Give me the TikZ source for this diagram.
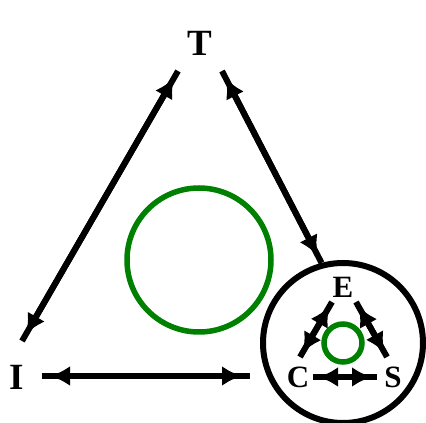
\documentclass[tikz,border=0pt]{standalone}
\usepackage{fontspec}
\setmainfont{Liberation Serif}
\usepackage{tikz}
\usetikzlibrary{arrows.meta, positioning}

\tikzset{
    lbl/.style={font=\fontsize{37}{37}\selectfont\bfseries, inner sep=0pt},
    sublbl/.style={font=\fontsize{31}{31}\selectfont\bfseries, inner sep=0pt},
    arr/.style={line width=6pt, {Latex[length=20pt,width=20pt]}-{Latex[length=20pt,width=20pt]},
        shorten <=#1, shorten >=#1,
        preaction={draw, line width=6pt, arrows=-, shorten <=0pt, shorten >=0pt}},
    arr/.default=8pt,
    ring/.style={line width=5.5pt, draw=green!50!black}
}

\begin{document}
\begin{tikzpicture}[x=1pt, y=1pt]
        \useasboundingbox (0,0) rectangle (426,423);
        % outer triangle
        \node[lbl] (T) at (200,380) {T};
        \node[lbl] (I) at (17,46) {I};
        \node[draw, circle, line width=6pt, minimum size=160pt] (sys) at (343,80) {};
        \draw[ring] (199,163) circle (72);
        % inner triangle
        \node[sublbl] (E) at (343,136) {E};
        \node[sublbl] (C) at (298,46) {C};
        \node[sublbl] (S) at (393,46) {S};
        \draw[ring] (sys.center) circle (19);
        % connectors
        \coordinate (t1) at ([shift={(-22,-28)}]T.center);
        \coordinate (t2) at ([shift={(22,-28)}]T.center);
        \coordinate (i1) at ([shift={(5,36)}]I.center);
        \coordinate (i2) at ([shift={(25,1)}]I.center);
        \draw[arr] (t1) -- (i1);
        \draw[arr] (t2) -- (sys.105);
        \draw[arr] (i2) -- ([xshift=-10pt]sys.west |- i2);
        \draw[arr=5pt] ([shift={(-11,-15)}]E.center) -- ([shift={(2,20)}]C.center);
        \draw[arr=5pt] ([shift={(13,-15)}]E.center) -- ([shift={(-6,20)}]S.center);
        \draw[arr=5pt] ([xshift=15pt]C.center) -- ([xshift=-16pt]S.center);
    \end{tikzpicture}
\end{document}
